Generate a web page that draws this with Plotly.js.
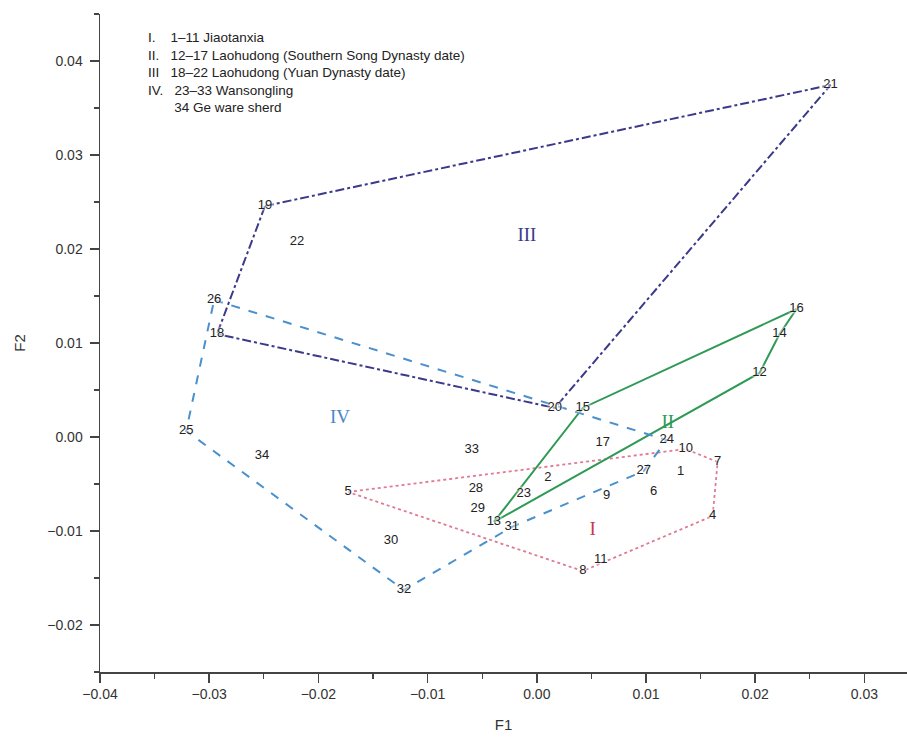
<!DOCTYPE html>
<html>
<head>
<meta charset="utf-8">
<script src="https://cdn.plot.ly/plotly-3.0.1.min.js"></script>
<style>html,body{margin:0;padding:0;background:#fff;}</style>
</head>
<body>
<div id="chart" style="width:907px;height:739px;"></div>
<script>
// Sample ids and their F1/F2 scores
const sampleIds = ['1','2','4','5','6','7','8','9','10','11','12','13','14','15','16','17','18','19','20','21','22','23','24','25','26','27','28','29','30','31','32','33','34'];
const f1 = [0.01317,0.00101,0.01610,-0.01729,0.01070,0.01656,0.00421,0.00640,0.01363,0.00586,0.02040,-0.00393,0.02223,0.00421,0.02379,0.00604,-0.02928,-0.02489,0.00165,0.02690,-0.02196,-0.00119,0.01189,-0.03211,-0.02955,0.00979,-0.00558,-0.00540,-0.01336,-0.00229,-0.01217,-0.00595,-0.02516];
const f2 = [-0.00372,-0.00436,-0.00840,-0.00585,-0.00585,-0.00266,-0.01426,-0.00628,-0.00128,-0.01309,0.00681,-0.00904,0.01096,0.00309,0.01362,-0.00064,0.01096,0.02457,0.00309,0.03745,0.02074,-0.00606,-0.00032,0.00064,0.01457,-0.00362,-0.00553,-0.00766,-0.01106,-0.00957,-0.01628,-0.00138,-0.00202];

// Group outlines (sample ids in drawing order)
const hullI = ['5','10','7','4','8','5'];
const hullII = ['13','15','16','14','12','13'];
const hullIII = ['19','21','20','18','19'];
const hullIV = ['26','24','27','31','32','25','26'];

// Group numeral labels
const groupNames = ['I','II','III','IV'];
const groupX = [0.00512, 0.01199, -0.00091, -0.01802];
const groupY = [-0.00989, 0.00149, 0.02138, 0.00202];
const groupColors = ['#c8354f','#2f9a55','#3b3a8a','#4a86c8'];

const legendLines = [
  'I.&nbsp;&nbsp;&nbsp;&nbsp;1–11 Jiaotanxia',
  'II.&nbsp;&nbsp;&nbsp;12–17 Laohudong (Southern Song Dynasty date)',
  'III&nbsp;&nbsp;&nbsp;18–22 Laohudong (Yuan Dynasty date)',
  'IV.&nbsp;&nbsp;&nbsp;23–33 Wansongling',
  '&nbsp;&nbsp;&nbsp;&nbsp;&nbsp;&nbsp;&nbsp;34 Ge ware sherd'
];

function hullTrace(ids, color, dash, width) {
  return {
    x: ids.map(id => f1[sampleIds.indexOf(id)]),
    y: ids.map(id => f2[sampleIds.indexOf(id)]),
    mode: 'lines', type: 'scatter', hoverinfo: 'skip',
    line: {color: color, dash: dash, width: width}
  };
}

const halo = '0px 0px 2px #fff, 0px 0px 3px #fff, 0px 0px 4px #fff';

const traces = [
  hullTrace(hullI, '#e07a92', 'dot', 1.8),
  hullTrace(hullII, '#2f9a55', 'solid', 2),
  hullTrace(hullIII, '#3b3a8a', 'dashdot', 2),
  hullTrace(hullIV, '#4a90cc', 'dash', 2),
  {
    x: f1, y: f2, text: sampleIds, mode: 'text', type: 'scatter',
    textposition: 'middle center',
    textfont: {family: 'Liberation Sans, Arial, sans-serif', size: 13, color: '#222', shadow: halo}
  },
  {
    x: groupX, y: groupY, text: groupNames, mode: 'text', type: 'scatter',
    textposition: 'middle center',
    textfont: {family: 'Liberation Serif, Times New Roman, serif', size: 19, color: groupColors}
  }
];

const layout = {
  width: 907, height: 739,
  margin: {l: 100, r: 0, t: 14, b: 67},
  paper_bgcolor: '#fff', plot_bgcolor: '#fff',
  showlegend: false,
  font: {family: 'Liberation Sans, Arial, sans-serif', color: '#333'},
  xaxis: {
    range: [-0.04, 0.0339], dtick: 0.01, tick0: 0, tickformat: '.2f',
    showgrid: false, zeroline: false, showline: true, linecolor: '#444', linewidth: 1.5,
    ticks: 'outside', ticklen: 9, tickwidth: 1.5, tickcolor: '#444',
    minor: {dtick: 0.005, ticks: 'outside', ticklen: 5, tickwidth: 1.2, tickcolor: '#444', showgrid: false},
    tickfont: {size: 14, color: '#333'},
    title: {text: 'F1', font: {size: 15, color: '#333'}, standoff: 18}
  },
  yaxis: {
    range: [-0.025, 0.045], dtick: 0.01, tick0: 0, tickformat: '.2f',
    showgrid: false, zeroline: false, showline: true, linecolor: '#444', linewidth: 1.5,
    ticks: 'outside', ticklen: 9, tickwidth: 1.5, tickcolor: '#444',
    ticklabelstandoff: 4,
    minor: {dtick: 0.005, ticks: 'outside', ticklen: 5, tickwidth: 1.2, tickcolor: '#444', showgrid: false},
    tickfont: {size: 14, color: '#333'},
    title: {text: 'F2', font: {size: 15, color: '#333'}, standoff: 18}
  },
  annotations: [{
    xref: 'paper', yref: 'paper', x: 0.057, y: 0.978, xanchor: 'left', yanchor: 'top',
    align: 'left', showarrow: false,
    text: legendLines.join('<br>'),
    font: {size: 13.5, color: '#222', family: 'Liberation Sans, Arial, sans-serif'}
  }]
};

Plotly.newPlot('chart', traces, layout, {displayModeBar: false, staticPlot: true});
</script>
</body>
</html>
